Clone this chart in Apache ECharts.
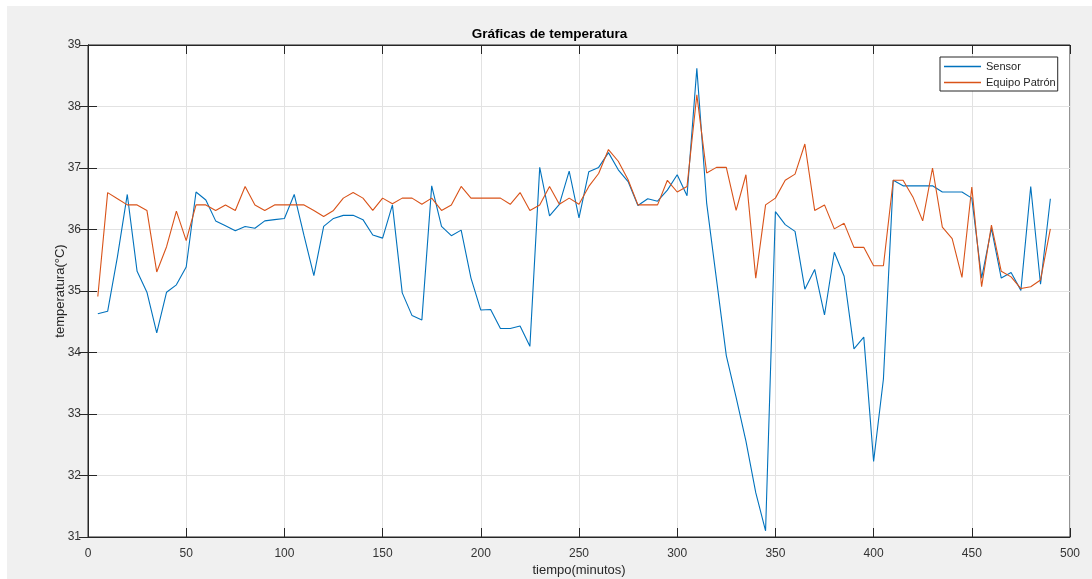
<!DOCTYPE html>
<html>
<head>
<meta charset="utf-8">
<script src="https://cdn.jsdelivr.net/npm/echarts@6/dist/echarts.min.js"></script>
<style>
html,body{margin:0;padding:0;background:#ffffff;width:1092px;height:579px;overflow:hidden;}
#c{position:absolute;left:7px;top:6px;width:1085px;height:573px;background:#f0f0f0;}
</style>
</head>
<body>
<div id="c"></div>
<script>
const times = [5,10,15,20,25,30,35,40,45,50,55,60,65,70,75,80,85,90,95,100,
105,110,115,120,125,130,135,140,145,150,155,160,165,170,175,180,185,190,195,200,
205,210,215,220,225,230,235,240,245,250,255,260,265,270,275,280,285,290,295,300,
305,310,315,320,325,330,335,340,345,350,355,360,365,370,375,380,385,390,395,400,
405,410,415,420,425,430,435,440,445,450,455,460,465,470,475,480,485,490];

const sensor = [34.63,34.67,35.56,36.57,35.32,34.98,34.32,34.98,35.10,35.39,
36.61,36.48,36.14,36.06,35.98,36.05,36.02,36.14,36.16,36.18,
36.57,35.90,35.25,36.05,36.18,36.23,36.23,36.16,35.91,35.86,
36.40,34.97,34.60,34.53,36.71,36.05,35.90,35.99,35.21,34.69,
34.70,34.39,34.39,34.43,34.10,37.01,36.22,36.41,36.95,36.19,
36.94,37.01,37.25,36.97,36.78,36.39,36.50,36.46,36.64,36.89,
36.55,38.62,36.43,35.19,33.95,33.27,32.56,31.72,31.10,36.29,
36.08,35.97,35.03,35.35,34.61,35.63,35.24,34.06,34.25,32.23,
33.57,36.80,36.71,36.71,36.71,36.71,36.61,36.61,36.61,36.51,
35.21,36.02,35.21,35.30,35.01,36.70,35.11,36.50];

const patron = [34.91,36.60,36.50,36.40,36.40,36.31,35.31,35.72,36.30,35.82,
36.40,36.40,36.31,36.40,36.31,36.70,36.40,36.31,36.40,36.40,
36.40,36.40,36.31,36.21,36.31,36.51,36.60,36.51,36.31,36.51,
36.42,36.51,36.51,36.41,36.51,36.31,36.40,36.70,36.51,36.51,
36.51,36.51,36.41,36.60,36.31,36.40,36.70,36.41,36.51,36.41,
36.70,36.91,37.30,37.11,36.81,36.40,36.40,36.40,36.80,36.61,
36.70,38.19,36.92,37.01,37.01,36.31,36.89,35.21,36.40,36.51,
36.80,36.90,37.39,36.31,36.40,36.01,36.10,35.71,35.71,35.41,
35.41,36.80,36.80,36.53,36.14,37.00,36.04,35.85,35.22,36.69,
35.07,36.07,35.32,35.23,35.04,35.07,35.18,36.01];

const seriesNames = ['Sensor', 'Equipo Patrón'];
const titleText = 'Gráficas de temperatura';
const xName = 'tiempo(minutos)';
const yName = 'temperatura(°C)';

const FONT = '"Liberation Sans", Arial, Helvetica, sans-serif';
const AX = '#262626';
const LBL = '#333333';

const chart = echarts.init(document.getElementById('c'), null, {renderer: 'canvas'});

function axisCommon(extra) {
  return Object.assign({
    axisLine: {show: true, lineStyle: {color: AX, width: 1}},
    axisTick: {show: true, inside: true, length: 9, lineStyle: {color: AX, width: 1}},
    axisLabel: {color: LBL, fontSize: 12, fontFamily: FONT},
    splitLine: {show: false}
  }, extra);
}

chart.setOption({
  animation: false,
  backgroundColor: '#f0f0f0',
  title: {
    text: titleText,
    left: 'center',
    top: 16,
    textStyle: {fontSize: 13.5, fontWeight: 'bold', color: '#000000', fontFamily: FONT}
  },
  grid: {
    left: 81, top: 39, width: 982, height: 492,
    containLabel: false,
    outerBoundsMode: 'none',
    show: true, backgroundColor: '#ffffff', borderColor: AX, borderWidth: 1
  },
  legend: {
    orient: 'vertical',
    left: 933, top: 51,
    padding: [3, 2, 2, 4],
    itemGap: 3,
    itemWidth: 37, itemHeight: 1.4,
    icon: 'rect',
    backgroundColor: '#ffffff',
    borderColor: AX, borderWidth: 1, borderRadius: 0,
    textStyle: {fontSize: 11, lineHeight: 13, color: AX, fontFamily: FONT},
    data: seriesNames
  },
  xAxis: [
    axisCommon({
      type: 'value', position: 'bottom', min: 0, max: 500, interval: 50,
      name: xName, nameLocation: 'middle', nameGap: 27, nameMoveOverlap: false,
      nameTextStyle: {fontSize: 13, color: AX, fontFamily: FONT},
      axisLabel: {color: LBL, fontSize: 12, fontFamily: FONT, margin: 11},
      splitLine: {show: true, lineStyle: {color: '#e2e2e2', width: 1}}
    }),
    axisCommon({
      type: 'value', position: 'top', min: 0, max: 500, interval: 50,
      axisLabel: {show: false}
    })
  ],
  yAxis: [
    axisCommon({
      type: 'value', position: 'left', min: 31, max: 39, interval: 1,
      name: yName, nameLocation: 'middle', nameGap: 21, nameMoveOverlap: false,
      nameTextStyle: {fontSize: 13, color: AX, fontFamily: FONT},
      axisLabel: {color: LBL, fontSize: 12, fontFamily: FONT, margin: 7},
      splitLine: {show: true, lineStyle: {color: '#e2e2e2', width: 1}}
    }),
    axisCommon({
      type: 'value', position: 'right', min: 31, max: 39, interval: 1,
      axisLabel: {show: false}
    })
  ],
  series: [
    {
      name: seriesNames[0], type: 'line', xAxisIndex: 0, yAxisIndex: 0,
      symbol: 'none', smooth: false,
      lineStyle: {color: '#0072BD', width: 1.1},
      itemStyle: {color: '#0072BD'},
      data: times.map((t, i) => [t, sensor[i]])
    },
    {
      name: seriesNames[1], type: 'line', xAxisIndex: 0, yAxisIndex: 0,
      symbol: 'none', smooth: false,
      lineStyle: {color: '#D95319', width: 1.1},
      itemStyle: {color: '#D95319'},
      data: times.map((t, i) => [t, patron[i]])
    }
  ]
});
</script>
</body>
</html>
